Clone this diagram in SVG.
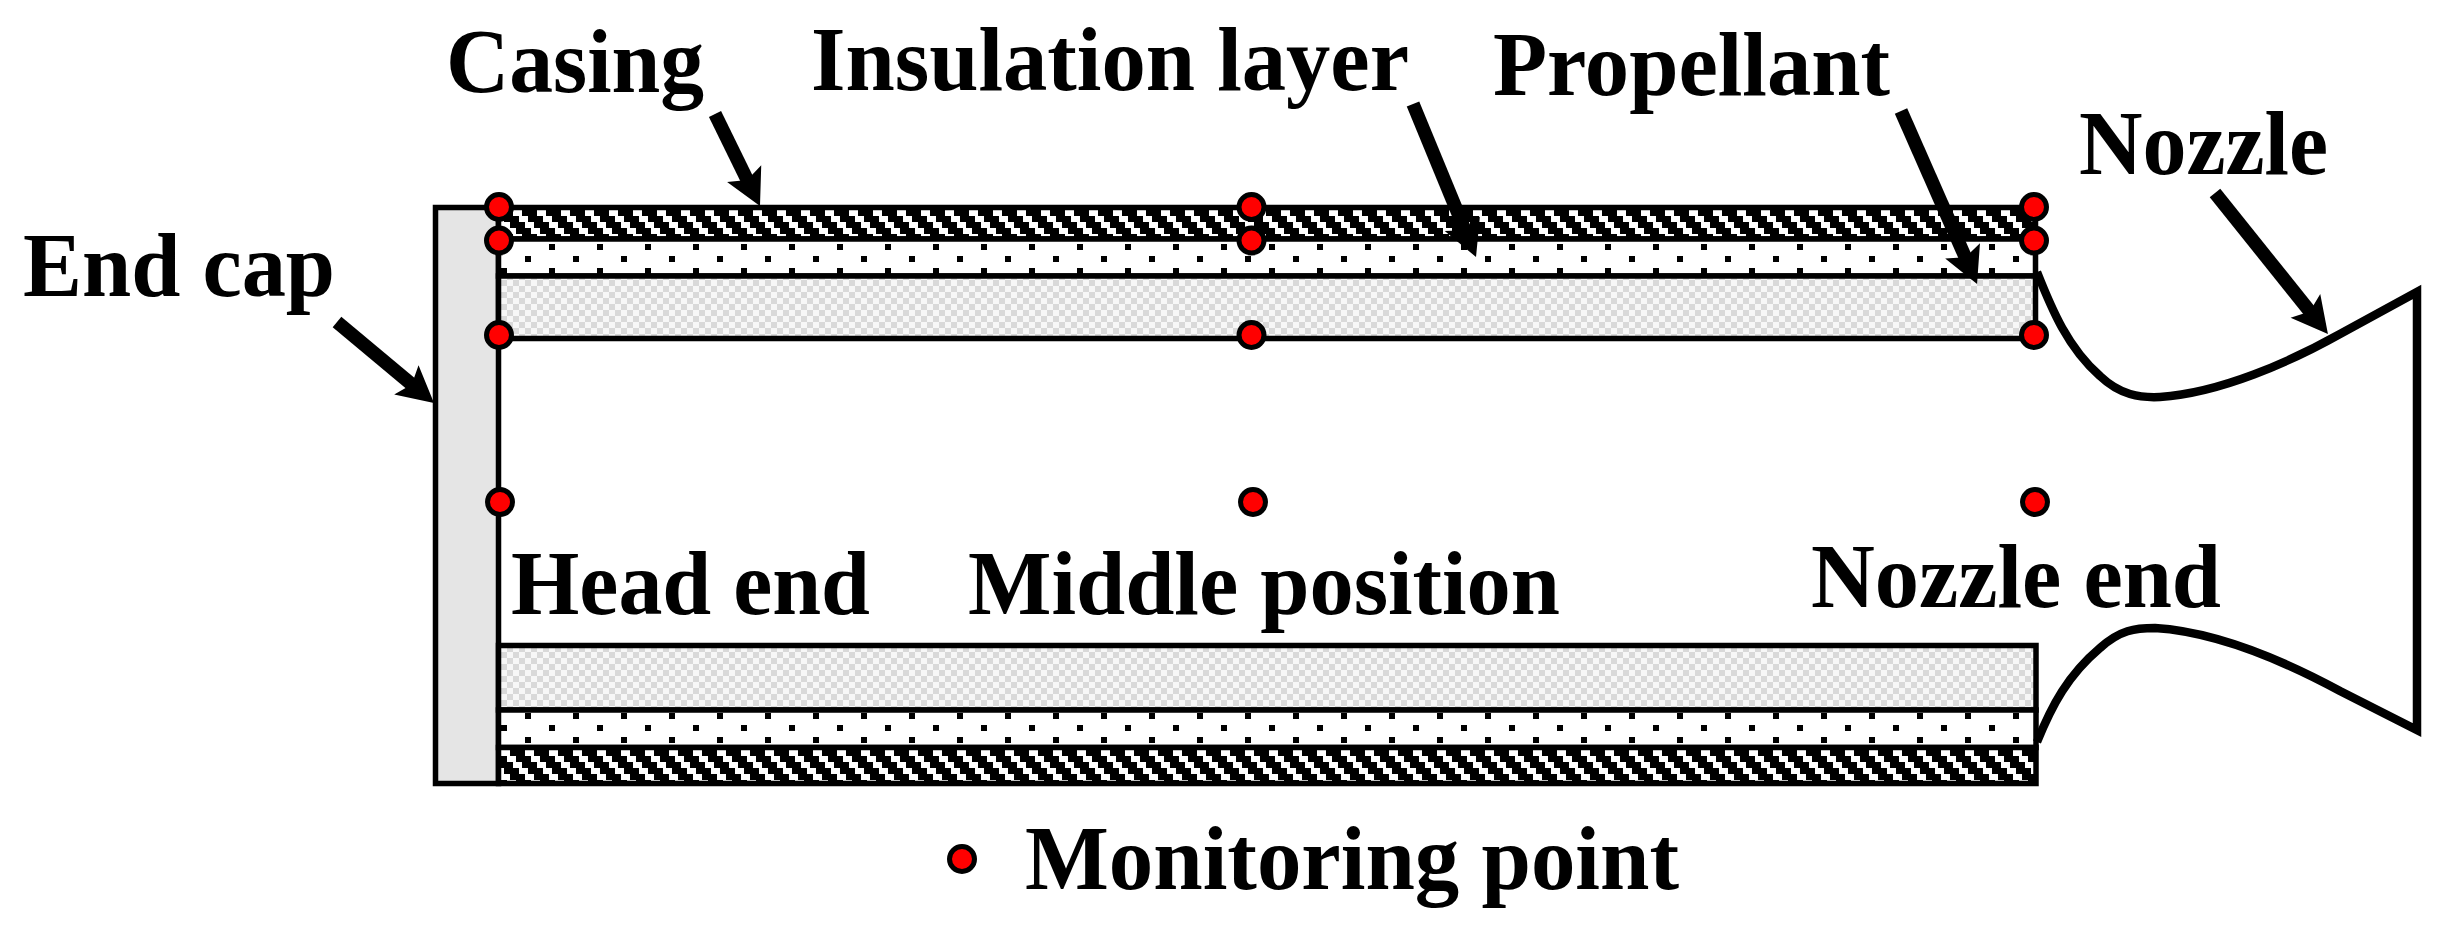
<svg xmlns="http://www.w3.org/2000/svg" xmlns:xlink="http://www.w3.org/1999/xlink" width="2448" height="946" viewBox="0 0 2448 946">
<style>
text{font-family:"Liberation Serif","Times New Roman",serif;font-weight:bold;font-size:91px;fill:#000}
.o{stroke:#000;stroke-width:5.5;stroke-linejoin:miter}
.pt{fill:#f00;stroke:#000;stroke-width:5}
.ar{stroke:#000;stroke-width:13.5;fill:none;marker-end:url(#ah)}
</style>
<defs>
<marker id="ah" markerUnits="userSpaceOnUse" markerWidth="40" markerHeight="40" refX="11" refY="20" orient="auto" overflow="visible"><path d="M36 20L0 1L7 20L0 39Z" fill="#000"/></marker>
<pattern id="hatchT" patternUnits="userSpaceOnUse" x="513" y="210" width="24" height="24" shape-rendering="crispEdges">
<rect width="24" height="24" fill="#000"/>
<path fill="#fff" d="M0 0h9v6H0zM6 6h9v6H6zM12 12h9v6H12zM18 18h6v6H18zM0 18h3v6H0z"/>
</pattern>
<pattern id="hatchB" xlink:href="#hatchT" href="#hatchT" x="525" y="750"/>
<pattern id="dotsT" patternUnits="userSpaceOnUse" x="525" y="244" width="48" height="24" shape-rendering="crispEdges">
<rect width="48" height="24" fill="#fff"/>
<rect x="24" y="0" width="6" height="6" fill="#000"/>
<rect x="0" y="12" width="6" height="6" fill="#000"/>
</pattern>
<pattern id="dotsB" xlink:href="#dotsT" href="#dotsT" x="525" y="725"/>
<pattern id="check" patternUnits="userSpaceOnUse" x="501" y="280" width="12" height="12" shape-rendering="crispEdges">
<rect width="12" height="12" fill="#f7f7f7"/>
<rect width="6" height="6" fill="#d9d9d9"/>
<rect x="6" y="6" width="6" height="6" fill="#d9d9d9"/>
</pattern>
</defs>
<rect width="2448" height="946" fill="#fff"/>
<g id="end-cap"><rect class="o" x="435.5" y="207.5" width="63" height="576" fill="#e5e5e5"/></g>
<g id="casing-top"><rect class="o" x="498.5" y="207.5" width="1537" height="31.5" fill="url(#hatchT)"/></g>
<g id="insulation-top"><rect class="o" x="498.5" y="239" width="1537" height="37" fill="url(#dotsT)"/></g>
<g id="propellant-top"><rect class="o" x="498.5" y="276" width="1537" height="62.5" fill="url(#check)"/></g>
<g id="propellant-bottom"><rect class="o" x="498.5" y="645.5" width="1537.5" height="64.5" fill="url(#check)"/></g>
<g id="insulation-bottom"><rect class="o" x="498.5" y="710" width="1537.5" height="37.5" fill="url(#dotsB)"/></g>
<g id="casing-bottom"><rect class="o" x="498.5" y="747.5" width="1537.5" height="36" fill="url(#hatchB)"/></g>
<g id="nozzle"><path d="M2037 272C2052 310 2068 348 2100 376C2120 395 2140 398 2160 397C2220 393 2290 362 2340 334L2417 292V730L2340 691C2290 664 2220 632 2155 628C2135 628 2120 630 2100 648C2068 675 2052 705 2037 742" fill="none" stroke="#000" stroke-width="8.5"/></g>
<g id="connectors">
<line class="ar" x1="715" y1="114" x2="749" y2="183.5"/>
<line class="ar" x1="337" y1="322" x2="414.8" y2="387"/>
<line class="ar" x1="1413" y1="104" x2="1466.5" y2="233.9"/>
<line class="ar" x1="1901" y1="111" x2="1967" y2="261"/>
<line class="ar" x1="2215" y1="193" x2="2312.3" y2="314.5"/>
</g>
<g id="points">
<circle class="pt" cx="499" cy="207" r="12.5"/><circle class="pt" cx="499" cy="240.5" r="12.5"/><circle class="pt" cx="499" cy="335" r="12.5"/><circle class="pt" cx="500" cy="502" r="12.5"/>
<circle class="pt" cx="1251.5" cy="207" r="12.5"/><circle class="pt" cx="1251.5" cy="240.5" r="12.5"/><circle class="pt" cx="1251.5" cy="335" r="12.5"/><circle class="pt" cx="1253" cy="502" r="12.5"/>
<circle class="pt" cx="2034" cy="207" r="12.5"/><circle class="pt" cx="2034" cy="240.5" r="12.5"/><circle class="pt" cx="2034" cy="335" r="12.5"/><circle class="pt" cx="2035" cy="502" r="12.5"/>
</g>
<g id="legend"><circle class="pt" cx="962" cy="859" r="12.5"/><text x="1025" y="889" textLength="654" lengthAdjust="spacingAndGlyphs">Monitoring point</text></g>
<g id="labels">
<text x="446" y="92" textLength="258" lengthAdjust="spacingAndGlyphs">Casing</text>
<text x="23" y="296" textLength="312" lengthAdjust="spacingAndGlyphs">End cap</text>
<text x="811" y="90" textLength="598" lengthAdjust="spacingAndGlyphs">Insulation layer</text>
<text x="1493" y="95" textLength="397" lengthAdjust="spacingAndGlyphs">Propellant</text>
<text x="2079" y="174" textLength="249" lengthAdjust="spacingAndGlyphs">Nozzle</text>
<text x="511" y="614" textLength="359" lengthAdjust="spacingAndGlyphs">Head end</text>
<text x="968" y="614" textLength="592" lengthAdjust="spacingAndGlyphs">Middle position</text>
<text x="1811" y="607" textLength="410" lengthAdjust="spacingAndGlyphs">Nozzle end</text>
</g>
</svg>
